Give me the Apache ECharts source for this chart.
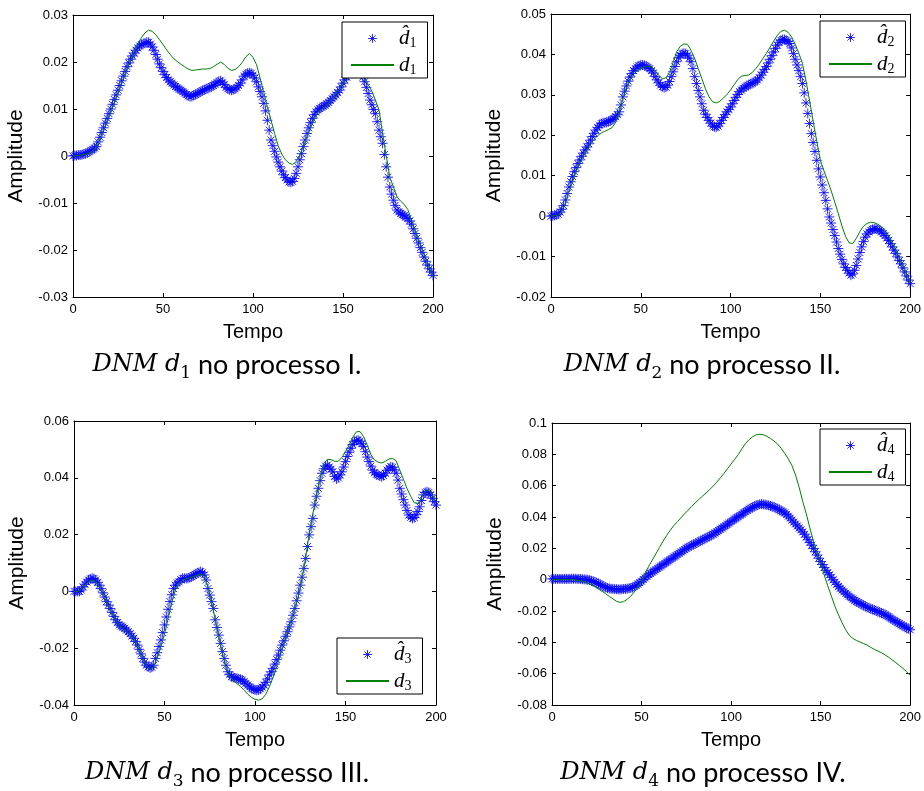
<!DOCTYPE html>
<html>
<head>
<meta charset="utf-8">
<title>DNM</title>
<script src="https://cdn.jsdelivr.net/npm/echarts@6/dist/echarts.min.js"></script>
<style>
  html, body { margin: 0; padding: 0; background: #fff; }
  #main { width: 924px; height: 791px; }
</style>
</head>
<body>
<div id="main"></div>
<script>
// values: estimated d-hat every 1 step, d every 2 steps (Tempo 0..200)
var hatStep = 1;
var lineStep = 2;

var hd1 = [
  0, 0.0001, 0.0001, 0.0002, 0.0002, 0.0003, 0.0004, 0.0005, 0.0007, 0.0009,
  0.0012, 0.0014, 0.0017, 0.002, 0.003, 0.004, 0.005, 0.006, 0.007, 0.008,
  0.009, 0.010, 0.011, 0.012, 0.013, 0.014, 0.015, 0.016, 0.017, 0.018,
  0.019, 0.0198, 0.0206, 0.0213, 0.0219, 0.0225, 0.023, 0.0234, 0.0237, 0.0239,
  0.024, 0.0242, 0.0242, 0.0238, 0.0232, 0.0225, 0.0216, 0.0206, 0.0196, 0.0188,
  0.018, 0.0173, 0.0167, 0.0162, 0.0158, 0.0155, 0.0151, 0.0148, 0.0145, 0.0142,
  0.014, 0.0137, 0.0134, 0.0131, 0.0128, 0.0126, 0.0127, 0.0129, 0.0131, 0.0133,
  0.0135, 0.0137, 0.0139, 0.0141, 0.0143, 0.0144, 0.0146, 0.0148, 0.015, 0.0153,
  0.0156, 0.0159, 0.016, 0.0157, 0.0152, 0.0146, 0.0143, 0.0141, 0.014, 0.0141,
  0.0143, 0.0146, 0.015, 0.0155, 0.0162, 0.017, 0.0174, 0.0176, 0.0177, 0.0176,
  0.0172, 0.0166, 0.0158, 0.0147, 0.0137, 0.0126, 0.0112, 0.0096, 0.0076, 0.0055,
  0.0034, 0.0022, 0.001, -0.0002, -0.0013, -0.0023, -0.0032, -0.004, -0.0046, -0.0051,
  -0.0055, -0.0056, -0.0054, -0.0048, -0.0037, -0.0023, -0.0008, 0.0005, 0.002, 0.0034,
  0.0048, 0.006, 0.0071, 0.008, 0.0088, 0.0094, 0.0098, 0.0101, 0.0104, 0.0106,
  0.0108, 0.0111, 0.0114, 0.0118, 0.0122, 0.0126, 0.013, 0.0135, 0.014, 0.0147,
  0.0155, 0.0162, 0.0168, 0.0173, 0.0177, 0.018, 0.0183, 0.0185, 0.0183, 0.0179,
  0.0175, 0.0168, 0.0158, 0.0146, 0.0133, 0.0119, 0.0109, 0.0099, 0.009, 0.0073,
  0.0055, 0.0041, 0.0027, 0.0003, -0.0023, -0.0045, -0.0066, -0.0081, -0.0094, -0.0105,
  -0.0115, -0.0119, -0.0122, -0.0125, -0.0127, -0.013, -0.0133, -0.0138, -0.0145, -0.0155,
  -0.0165, -0.0175, -0.0185, -0.0195, -0.0205, -0.0215, -0.0224, -0.0232, -0.024, -0.0247,
  -0.0254
];
var d1 = [
  0, 0.0001, 0.0002, 0.0003, 0.0005, 0.0008, 0.0015, 0.0028, 0.0045, 0.0065,
  0.0085, 0.0105, 0.0125, 0.0145, 0.0165, 0.0185, 0.0204, 0.0222, 0.0238, 0.0252,
  0.0262, 0.0268, 0.0265, 0.0258, 0.0248, 0.0237, 0.0226, 0.0216, 0.0207, 0.0201,
  0.0195, 0.019, 0.0185, 0.0182, 0.0183, 0.0184, 0.0185, 0.0185, 0.0186, 0.019,
  0.0195, 0.02, 0.0195, 0.0187, 0.0182, 0.0184, 0.019, 0.0199, 0.0211, 0.0218,
  0.021, 0.0194, 0.0165, 0.0135, 0.0105, 0.0076, 0.0048, 0.0022, 0.0004, -0.0008,
  -0.0015, -0.0018, -0.0012, 0.0003, 0.002, 0.0041, 0.006, 0.0078, 0.0093, 0.0099,
  0.0105, 0.0113, 0.0121, 0.0131, 0.0142, 0.0155, 0.0168, 0.018, 0.019, 0.0195,
  0.019, 0.0168, 0.0152, 0.0138, 0.0119, 0.0098, 0.0048, 0.0001, -0.0045, -0.0066,
  -0.0087, -0.0096, -0.0103, -0.0114, -0.0135, -0.0158, -0.0178, -0.0198, -0.0218, -0.0238,
  -0.0257
];

var hd2 = [
  0, 0.0001, 0.0002, 0.0003, 0.0005, 0.001, 0.0017, 0.0026, 0.004, 0.0056,
  0.0072, 0.0085, 0.0098, 0.011, 0.012, 0.013, 0.0139, 0.0148, 0.0156, 0.0164,
  0.0171, 0.0179, 0.0188, 0.0197, 0.0205, 0.0213, 0.0219, 0.0225, 0.0229, 0.0231,
  0.0231, 0.0232, 0.0234, 0.0236, 0.0239, 0.0242, 0.0246, 0.0251, 0.0258, 0.0275,
  0.0295, 0.0309, 0.0322, 0.0334, 0.0344, 0.0353, 0.036, 0.0365, 0.0369, 0.0372,
  0.0374, 0.0374, 0.0373, 0.0371, 0.0368, 0.0365, 0.036, 0.0354, 0.0345, 0.0337,
  0.033, 0.0324, 0.032, 0.0318, 0.0319, 0.0324, 0.0333, 0.0345, 0.0357, 0.037,
  0.0382, 0.0392, 0.0398, 0.0402, 0.0403, 0.0402, 0.0398, 0.0391, 0.0382, 0.0365,
  0.0345, 0.0328, 0.0311, 0.0295, 0.0278, 0.0262, 0.0252, 0.0244, 0.0237, 0.023,
  0.0223, 0.0221, 0.022, 0.0223, 0.0229, 0.0237, 0.0244, 0.0251, 0.0258, 0.0264,
  0.027, 0.0278, 0.0286, 0.0294, 0.0301, 0.0308, 0.0312, 0.0316, 0.0319, 0.0322,
  0.0324, 0.0327, 0.0329, 0.0331, 0.0334, 0.0337, 0.0342, 0.0349, 0.0356, 0.0363,
  0.037, 0.0379, 0.0388, 0.0397, 0.0406, 0.0415, 0.0423, 0.043, 0.0435, 0.0437,
  0.0437, 0.0435, 0.0432, 0.0427, 0.0416, 0.0402, 0.0388, 0.0374, 0.036, 0.0345,
  0.0328, 0.0305, 0.028, 0.0254, 0.0229, 0.0204, 0.0182, 0.016, 0.0138, 0.0117,
  0.0097, 0.0077, 0.0058, 0.0039, 0.0018, -0.0002, -0.0017, -0.0033, -0.0048, -0.0064,
  -0.008, -0.0094, -0.0107, -0.0118, -0.0127, -0.0134, -0.0141, -0.0146, -0.0143, -0.0134,
  -0.0122, -0.0106, -0.009, -0.0076, -0.0063, -0.0052, -0.0044, -0.0039, -0.0035, -0.0033,
  -0.0031, -0.0031, -0.0033, -0.0035, -0.0039, -0.0043, -0.0048, -0.0054, -0.006, -0.0068,
  -0.0076, -0.0084, -0.0092, -0.0101, -0.011, -0.0118, -0.0128, -0.0138, -0.0148, -0.0158,
  -0.0167
];
var d2 = [
  0, 0.0001, 0.0003, 0.0012, 0.0032, 0.006, 0.0085, 0.011, 0.013, 0.0148,
  0.0165, 0.0178, 0.019, 0.0199, 0.0206, 0.021, 0.0214, 0.0219, 0.0232, 0.0258,
  0.029, 0.0318, 0.0337, 0.0351, 0.036, 0.0365, 0.0369, 0.0371, 0.037, 0.036,
  0.0348, 0.034, 0.0342, 0.0355, 0.038, 0.0407, 0.042, 0.0426, 0.0425, 0.041,
  0.039, 0.0365, 0.034, 0.0315, 0.0295, 0.0283, 0.028, 0.0284, 0.0292, 0.0301,
  0.0312, 0.0325, 0.0338, 0.0346, 0.0348, 0.0349, 0.0355, 0.0365, 0.0376, 0.039,
  0.0403, 0.0418, 0.0433, 0.0447, 0.0457, 0.046, 0.0455, 0.0443, 0.0425, 0.0403,
  0.0378, 0.0335, 0.0285, 0.0235, 0.0185, 0.0138, 0.0112, 0.0088, 0.0063, 0.0035,
  0.0006, -0.0024, -0.005, -0.0066, -0.0068, -0.0055, -0.0038, -0.0025, -0.0018, -0.0015,
  -0.0016, -0.002, -0.0026, -0.0035, -0.0048, -0.0065, -0.0083, -0.0103, -0.0123, -0.0144,
  -0.0165
];

var hd3 = [
  0, 0, 0, 0, 0.0005, 0.0016, 0.0025, 0.0033, 0.004, 0.0044,
  0.0046, 0.0045, 0.004, 0.0032, 0.0022, 0.001, -0.0005, -0.002, -0.0036, -0.0048,
  -0.006, -0.0074, -0.0088, -0.01, -0.011, -0.0118, -0.0122, -0.0126, -0.013, -0.0136,
  -0.0142, -0.0149, -0.0157, -0.0165, -0.0176, -0.0189, -0.0204, -0.022, -0.0236, -0.0249,
  -0.026, -0.0266, -0.0269, -0.0267, -0.026, -0.0236, -0.0216, -0.0194, -0.0171, -0.0145,
  -0.0118, -0.009, -0.0063, -0.0036, -0.0012, 0.001, 0.0022, 0.003, 0.0034, 0.0041,
  0.0046, 0.0046, 0.0046, 0.0046, 0.0049, 0.0052, 0.0056, 0.006, 0.0064, 0.0067,
  0.007, 0.0066, 0.0058, 0.004, 0.001, -0.0013, -0.0036, -0.006, -0.01, -0.0127,
  -0.0154, -0.0183, -0.0212, -0.0236, -0.026, -0.0283, -0.0293, -0.03, -0.0303, -0.0305,
  -0.0306, -0.0308, -0.031, -0.0312, -0.0318, -0.0324, -0.033, -0.0336, -0.0341, -0.0344,
  -0.0347, -0.0348, -0.0347, -0.0343, -0.0337, -0.033, -0.032, -0.0308, -0.0294, -0.0283,
  -0.0271, -0.0256, -0.024, -0.0224, -0.0207, -0.0189, -0.0174, -0.0158, -0.0142, -0.0125,
  -0.0107, -0.0084, -0.006, -0.0033, -0.0006, 0.0022, 0.005, 0.0081, 0.0116, 0.0158,
  0.0199, 0.0228, 0.0257, 0.0304, 0.0335, 0.0363, 0.039, 0.0416, 0.0432, 0.0441,
  0.0445, 0.0438, 0.043, 0.0421, 0.0405, 0.0396, 0.04, 0.041, 0.0421, 0.0438,
  0.0457, 0.0475, 0.049, 0.0504, 0.0517, 0.0527, 0.0531, 0.0533, 0.0529, 0.052,
  0.051, 0.0492, 0.0473, 0.0457, 0.0441, 0.0427, 0.0418, 0.0412, 0.041, 0.0406,
  0.0404, 0.0408, 0.0416, 0.0427, 0.0434, 0.0439, 0.0437, 0.0428, 0.0416, 0.0392,
  0.0363, 0.0343, 0.0323, 0.0304, 0.0285, 0.0269, 0.0261, 0.0257, 0.026, 0.027,
  0.0281, 0.0298, 0.032, 0.034, 0.0348, 0.0351, 0.0348, 0.034, 0.0328, 0.0316,
  0.0304
];
var d3 = [
  0, 0, 0.0008, 0.0022, 0.0033, 0.004, 0.0035, 0.0018, -0.0008, -0.0038,
  -0.0065, -0.0088, -0.011, -0.0125, -0.0135, -0.0145, -0.0158, -0.0177, -0.0205, -0.0235,
  -0.026, -0.0275, -0.0265, -0.0235, -0.0195, -0.015, -0.0095, -0.004, 0.0005, 0.0028,
  0.004, 0.0045, 0.0048, 0.0052, 0.0057, 0.006, 0.0055, 0.0015, -0.0038, -0.0098,
  -0.016, -0.0218, -0.0268, -0.0298, -0.0313, -0.0325, -0.0335, -0.0348, -0.0362, -0.0373,
  -0.038, -0.0383, -0.0378, -0.0362, -0.0335, -0.0302, -0.0265, -0.0225, -0.0183, -0.0142,
  -0.01, -0.0058, -0.0015, 0.0045, 0.012, 0.0205, 0.0275, 0.0338, 0.0398, 0.045,
  0.0465, 0.0464, 0.0458, 0.0458, 0.0472, 0.0492, 0.0515, 0.0543, 0.0562, 0.0563,
  0.0545, 0.0515, 0.0482, 0.0463, 0.0455, 0.0452, 0.0458, 0.0466, 0.0468, 0.046,
  0.0427, 0.0395, 0.0362, 0.0335, 0.0312, 0.031, 0.033, 0.0352, 0.0357, 0.034,
  0.0316
];

var hd4 = [
  0.0005, 0.0005, 0.0005, 0.0005, 0.0005, 0.0005, 0.0005, 0.0005, 0.0005, 0.0005,
  0.0005, 0.0006, 0.0006, 0.0006, 0.0005, 0.0005, 0.0004, 0.0003, 0.0002, 0.0001,
  0, -0.0003, -0.0007, -0.0011, -0.0015, -0.002, -0.0026, -0.0032, -0.0038, -0.0044,
  -0.005, -0.0053, -0.0056, -0.0058, -0.0059, -0.006, -0.0061, -0.0062, -0.0062, -0.0061,
  -0.006, -0.0059, -0.0057, -0.0055, -0.0053, -0.005, -0.0044, -0.0036, -0.0028, -0.0019,
  -0.001, 0.0001, 0.0011, 0.0021, 0.0031, 0.004, 0.0048, 0.0056, 0.0064, 0.0072,
  0.008, 0.0088, 0.0096, 0.0104, 0.0112, 0.012, 0.0128, 0.0136, 0.0144, 0.0152,
  0.016, 0.0168, 0.0176, 0.0184, 0.0192, 0.0201, 0.0207, 0.0213, 0.0219, 0.0225,
  0.023, 0.0236, 0.0242, 0.0248, 0.0254, 0.026, 0.0266, 0.0272, 0.0278, 0.0284,
  0.029, 0.0298, 0.0306, 0.0314, 0.0322, 0.033, 0.0338, 0.0346, 0.0354, 0.0362,
  0.0371, 0.0379, 0.0387, 0.0395, 0.0402, 0.041, 0.0418, 0.0426, 0.0434, 0.0442,
  0.045, 0.0456, 0.0462, 0.0468, 0.0474, 0.0478, 0.0481, 0.0482, 0.0481, 0.0479,
  0.0477, 0.0474, 0.0471, 0.0467, 0.0463, 0.0458, 0.0452, 0.0446, 0.0439, 0.0433,
  0.0426, 0.0416, 0.0405, 0.0393, 0.038, 0.0367, 0.0355, 0.0343, 0.033, 0.0318,
  0.0305, 0.029, 0.0272, 0.0255, 0.0237, 0.022, 0.0199, 0.0178, 0.0157, 0.0137,
  0.0116, 0.0097, 0.0078, 0.006, 0.0045, 0.0031, 0.0015, -0.0001, -0.0016, -0.003,
  -0.0044, -0.0055, -0.0066, -0.0077, -0.0087, -0.0097, -0.0106, -0.0115, -0.0124, -0.0132,
  -0.014, -0.0146, -0.0152, -0.0158, -0.0164, -0.017, -0.0176, -0.0181, -0.0186, -0.019,
  -0.0195, -0.0199, -0.0203, -0.0208, -0.0213, -0.0218, -0.0224, -0.023, -0.0237, -0.0245,
  -0.0253, -0.026, -0.0267, -0.0274, -0.0281, -0.0288, -0.0295, -0.0301, -0.0307, -0.0313,
  -0.032
];
var d4 = [
  0, 0, 0, 0, 0, 0, 0, -0.0003, -0.0008, -0.0014,
  -0.0022, -0.0033, -0.0045, -0.006, -0.0075, -0.009, -0.0107, -0.0122, -0.0138, -0.0145,
  -0.014, -0.0125, -0.0105, -0.0078, -0.0045, -0.001, 0.004, 0.0085, 0.0125, 0.0165,
  0.0205, 0.0245, 0.0282, 0.0315, 0.0345, 0.037, 0.0395, 0.042, 0.0443, 0.0468,
  0.049, 0.0512, 0.0533, 0.0553, 0.0574, 0.0597, 0.0622, 0.065, 0.0678, 0.0708,
  0.0738, 0.0768, 0.0798, 0.0835, 0.0868, 0.0893, 0.0912, 0.0925, 0.0928, 0.0925,
  0.0915, 0.0902, 0.0885, 0.0865, 0.0838, 0.0805, 0.077, 0.0728, 0.0668, 0.059,
  0.05, 0.042, 0.033, 0.0245, 0.017, 0.0105, 0.003, -0.004, -0.0105, -0.017,
  -0.0225, -0.0275, -0.032, -0.0355, -0.0375, -0.0388, -0.0398, -0.0408, -0.0418, -0.0432,
  -0.0445, -0.0455, -0.0467, -0.048, -0.0495, -0.0512, -0.053, -0.0548, -0.0566, -0.0588,
  -0.061
];

// axis ticks
var xTicks = [0, 200, 50];
var yTicks1 = [-0.03, 0.03, 0.01];
var yTicks2 = [-0.02, 0.05, 0.01];
var yTicks3 = [-0.04, 0.06, 0.02];
var yTicks4 = [-0.08, 0.1, 0.02];

var captions = ['no processo I.', 'no processo II.', 'no processo III.', 'no processo IV.'];

var chart = echarts.init(document.getElementById('main'));

var sans = 'Liberation Sans, Arial, sans-serif';
var serif = 'Liberation Serif, Times New Roman, serif';
var star = 'path://M5,0L5,10M0,5L10,5M1.5,1.5L8.5,8.5M1.5,8.5L8.5,1.5';

var panels = [
  { hat: hd1, d: d1, y: yTicks1, grid: { left: 73, top: 15, width: 360, height: 282 }, legend: { left: 342, top: 22 }, cap: [227, 365] },
  { hat: hd2, d: d2, y: yTicks2, grid: { left: 551, top: 14, width: 362, height: 283 }, legend: { left: 820, top: 21 }, cap: [702, 365] },
  { hat: hd3, d: d3, y: yTicks3, grid: { left: 74, top: 421, width: 362, height: 284 }, legend: { left: 337, top: 638 }, cap: [227, 773] },
  { hat: hd4, d: d4, y: yTicks4, grid: { left: 552, top: 423, width: 361, height: 282 }, legend: { left: 820, top: 429 }, cap: [703, 773] }
];

function pairs(vals, step) {
  return vals.map(function (v, i) { return [i * step, v]; });
}

var frame = { onZero: false, lineStyle: { color: '#000', width: 1 } };
var ticks = { inside: true, length: 4, lineStyle: { color: '#000' } };

var grids = [], xAxes = [], yAxes = [], series = [], legends = [], graphics = [];

panels.forEach(function (p, i) {
  var n = i + 1;
  grids.push(p.grid);

  xAxes.push({
    gridIndex: i, type: 'value', min: xTicks[0], max: xTicks[1], interval: xTicks[2],
    name: 'Tempo', nameLocation: 'middle', nameGap: 25,
    nameTextStyle: { color: '#000', fontFamily: sans, fontSize: 20 },
    axisLine: frame, axisTick: ticks,
    axisLabel: { color: '#000', fontFamily: sans, fontSize: 13, margin: 6 },
    splitLine: { show: false }
  });
  xAxes.push({
    gridIndex: i, type: 'value', position: 'top', min: xTicks[0], max: xTicks[1], interval: xTicks[2],
    axisLine: frame, axisTick: ticks, axisLabel: { show: false }, splitLine: { show: false }
  });
  yAxes.push({
    gridIndex: i, type: 'value', min: p.y[0], max: p.y[1], interval: p.y[2],
    name: 'Amplitude', nameLocation: 'middle', nameGap: 46,
    nameTextStyle: { color: '#000', fontFamily: sans, fontSize: 21 },
    axisLine: frame, axisTick: ticks,
    axisLabel: { color: '#000', fontFamily: sans, fontSize: 13, margin: 5 },
    splitLine: { show: false }
  });
  yAxes.push({
    gridIndex: i, type: 'value', position: 'right', min: p.y[0], max: p.y[1], interval: p.y[2],
    axisLine: frame, axisTick: ticks, axisLabel: { show: false }, splitLine: { show: false }
  });

  series.push({
    name: 'hd' + n, type: 'line', xAxisIndex: 2 * i, yAxisIndex: 2 * i,
    data: pairs(p.hat, hatStep),
    symbol: star, symbolSize: 10, showSymbol: true, showAllSymbol: true,
    lineStyle: { opacity: 0 },
    itemStyle: { color: '#0000ff', borderColor: '#0000ff', borderWidth: 1, opacity: 0.85 },
    z: 2
  });
  series.push({
    name: 'd' + n, type: 'line', xAxisIndex: 2 * i, yAxisIndex: 2 * i,
    data: pairs(p.d, lineStep),
    symbol: 'none',
    lineStyle: { color: '#008000', width: 1 },
    itemStyle: { color: '#008000' },
    z: 3
  });

  legends.push({
    orient: 'vertical', left: p.legend.left, top: p.legend.top,
    data: [
      { name: 'hd' + n, lineStyle: { opacity: 0 } },
      { name: 'd' + n, itemStyle: { opacity: 0 } }
    ],
    itemWidth: 43, itemHeight: 11, itemGap: 4,
    padding: [6, 11, 1, 8],
    borderColor: '#000', borderWidth: 1, borderRadius: 0, backgroundColor: '#fff',
    selectedMode: false,
    itemStyle: { borderWidth: 1 },
    formatter: function (name) {
      return name.charAt(0) === 'h' ? '{a|d\u0302}{b|' + n + '}' : '{a|d}{b|' + n + '}';
    },
    textStyle: {
      rich: {
        a: { fontFamily: serif, fontStyle: 'italic', fontSize: 21, lineHeight: 24, color: '#000' },
        b: { fontFamily: serif, fontSize: 14, lineHeight: 12, verticalAlign: 'bottom', color: '#000' }
      }
    }
  });

  graphics.push({
    type: 'text', x: p.cap[0], y: p.cap[1],
    style: {
      text: '{a|DNM d}{b|' + n + '}{c| ' + captions[i] + '}',
      align: 'center', verticalAlign: 'middle',
      rich: {
        a: { fontFamily: 'DejaVu Serif', fontStyle: 'italic', fontSize: 24, lineHeight: 34, fill: '#000' },
        b: { fontFamily: 'DejaVu Serif', fontSize: 17, lineHeight: 18, verticalAlign: 'bottom', fill: '#000' },
        c: { fontFamily: 'Lato', fontSize: 27, lineHeight: 34, fill: '#000' }
      }
    }
  });
});

var option = {
  animation: false,
  backgroundColor: '#fff',
  grid: grids,
  xAxis: xAxes,
  yAxis: yAxes,
  legend: legends,
  series: series,
  graphic: graphics
};

chart.setOption(option);
</script>
</body>
</html>
